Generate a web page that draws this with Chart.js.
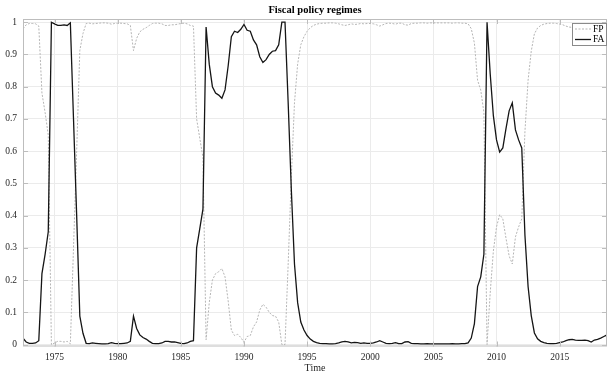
<!DOCTYPE html>
<html><head><meta charset="utf-8">
<script src="https://cdn.jsdelivr.net/npm/chart.js@4/dist/chart.umd.min.js"></script>
<style>html,body{margin:0;padding:0;background:#fff}#wrap{width:608px;height:373px}</style>
</head><body><div id="wrap"><canvas id="c" width="608" height="373"></canvas></div>
<script>
// Quarterly time axis: 1972Q3 .. 2018Q4
const startTime = 1972.5;
const quarterStep = 0.25;

// FA regime probability, quarterly
const FA = [
  0.02, 0.008,
  0.004, 0.004, 0.005, 0.012,
  0.22, 0.28, 0.35, 1.0,
  0.995, 0.99, 0.99, 0.992,
  0.99, 0.998, 0.70, 0.40,
  0.088, 0.035, 0.004, 0.003,
  0.005, 0.004, 0.003, 0.002,
  0.002, 0.003, 0.006, 0.004,
  0.003, 0.003, 0.004, 0.005,
  0.01, 0.088, 0.05, 0.03,
  0.022, 0.017, 0.01, 0.004,
  0.003, 0.003, 0.005, 0.01,
  0.01, 0.008, 0.008, 0.006,
  0.004, 0.003, 0.005, 0.01,
  0.012, 0.30, 0.36, 0.42,
  0.985, 0.87, 0.80, 0.78,
  0.774, 0.764, 0.79, 0.865,
  0.955, 0.972, 0.968, 0.978,
  0.993, 0.975, 0.972, 0.945,
  0.93, 0.893, 0.875, 0.884,
  0.90, 0.91, 0.912, 0.93,
  1.0, 1.0, 0.75, 0.48,
  0.25, 0.13, 0.07, 0.045,
  0.028, 0.017, 0.01, 0.006,
  0.004, 0.003, 0.003, 0.002,
  0.002, 0.003, 0.005, 0.008,
  0.01, 0.008, 0.005, 0.007,
  0.006, 0.004, 0.005, 0.004,
  0.004, 0.005, 0.008, 0.012,
  0.008, 0.004, 0.003, 0.004,
  0.006, 0.003, 0.003, 0.008,
  0.009, 0.004, 0.003, 0.003,
  0.002, 0.002, 0.003, 0.002,
  0.002, 0.002, 0.002, 0.002,
  0.002, 0.002, 0.003, 0.002,
  0.002, 0.003, 0.003, 0.005,
  0.02, 0.065, 0.18, 0.21,
  0.28, 1.0, 0.84, 0.71,
  0.635, 0.597, 0.61, 0.67,
  0.725, 0.75, 0.666, 0.635,
  0.61, 0.34, 0.18, 0.09,
  0.036, 0.018, 0.01, 0.006,
  0.004, 0.003, 0.003, 0.004,
  0.006, 0.008, 0.012, 0.015,
  0.016, 0.014, 0.013, 0.013,
  0.014, 0.012, 0.008, 0.014,
  0.016, 0.02, 0.025, 0.03
];

// FP regime probability, quarterly
const FP = [
  0.98, 0.992,
  0.996, 0.996, 0.995, 0.988,
  0.78, 0.72, 0.65, 0.0,
  0.005, 0.01, 0.01, 0.008,
  0.01, 0.002, 0.30, 0.60,
  0.912, 0.965, 0.996, 0.997,
  0.995, 0.996, 0.997, 0.998,
  0.998, 0.997, 0.994, 0.996,
  0.997, 0.997, 0.996, 0.995,
  0.99, 0.912, 0.95, 0.97,
  0.978, 0.983, 0.99, 0.996,
  0.997, 0.997, 0.995, 0.99,
  0.99, 0.992, 0.992, 0.994,
  0.996, 0.997, 0.995, 0.99,
  0.988, 0.70, 0.64, 0.58,
  0.015, 0.13, 0.20, 0.22,
  0.226, 0.236, 0.21, 0.135,
  0.045, 0.028, 0.032, 0.022,
  0.007, 0.025, 0.028, 0.055,
  0.07, 0.107, 0.125, 0.116,
  0.10, 0.09, 0.088, 0.07,
  0.0, 0.0, 0.25, 0.52,
  0.75, 0.87, 0.93, 0.955,
  0.972, 0.983, 0.99, 0.994,
  0.996, 0.997, 0.997, 0.998,
  0.998, 0.997, 0.995, 0.992,
  0.99, 0.992, 0.995, 0.993,
  0.994, 0.996, 0.995, 0.996,
  0.996, 0.995, 0.992, 0.988,
  0.992, 0.996, 0.997, 0.996,
  0.994, 0.997, 0.997, 0.992,
  0.991, 0.996, 0.997, 0.997,
  0.998, 0.998, 0.997, 0.998,
  0.998, 0.998, 0.998, 0.998,
  0.998, 0.998, 0.997, 0.998,
  0.998, 0.997, 0.997, 0.995,
  0.98, 0.935, 0.82, 0.79,
  0.72, 0.0, 0.16, 0.29,
  0.365, 0.403, 0.39, 0.33,
  0.275, 0.25, 0.334, 0.365,
  0.39, 0.66, 0.82, 0.91,
  0.964, 0.982, 0.99, 0.994,
  0.996, 0.997, 0.997, 0.996,
  0.994, 0.992, 0.988, 0.985,
  0.984, 0.986, 0.987, 0.987,
  0.986, 0.988, 0.992, 0.986,
  0.984, 0.98, 0.975, 0.97
];

const xTicks = [1975, 1980, 1985, 1990, 1995, 2000, 2005, 2010, 2015];
const yTicks = [0, 0.1, 0.2, 0.3, 0.4, 0.5, 0.6, 0.7, 0.8, 0.9, 1];
const titleText = 'Fiscal policy regimes';
const xTitle = 'Time';

const times = FA.map((_, i) => startTime + i * quarterStep);
const serif = 'Liberation Serif, Times New Roman, serif';
const boxColor = '#bdbdbd';
const gridColor = '#ebebeb';

const frame = {
  id: 'frame',
  afterDraw(chart) {
    const {ctx, chartArea: a, scales} = chart;
    ctx.save();
    ctx.strokeStyle = boxColor;
    ctx.lineWidth = 1;
    ctx.strokeRect(a.left + 0.5, a.top + 0.5, a.right - a.left - 1, a.bottom - a.top - 1);
    const tl = 5;
    ctx.beginPath();
    xTicks.forEach(v => {
      const x = Math.round(scales.x.getPixelForValue(v)) + 0.5;
      ctx.moveTo(x, a.bottom); ctx.lineTo(x, a.bottom - tl);
      ctx.moveTo(x, a.top); ctx.lineTo(x, a.top + tl);
    });
    yTicks.forEach(v => {
      const y = Math.round(scales.y.getPixelForValue(v)) + 0.5;
      ctx.moveTo(a.left, y); ctx.lineTo(a.left + tl, y);
      ctx.moveTo(a.right, y); ctx.lineTo(a.right - tl, y);
    });
    ctx.stroke();
    // legend
    const ds = chart.data.datasets;
    const lw = 34, lh = 22;
    const lx = a.right - lw - 1, ly = a.top + 4;
    ctx.fillStyle = '#fff';
    ctx.fillRect(lx, ly, lw, lh);
    ctx.strokeStyle = '#8a8a8a';
    ctx.strokeRect(lx + 0.5, ly + 0.5, lw, lh);
    ds.forEach((d, i) => {
      const yy = ly + 6 + i * 10.5;
      ctx.beginPath();
      ctx.setLineDash(d.borderDash || []);
      ctx.strokeStyle = d.borderColor;
      ctx.lineWidth = d.borderWidth;
      ctx.moveTo(lx + 3, yy); ctx.lineTo(lx + 19, yy);
      ctx.stroke();
      ctx.setLineDash([]);
      ctx.fillStyle = '#000';
      ctx.font = '9.5px ' + serif;
      ctx.textBaseline = 'middle';
      ctx.textAlign = 'left';
      ctx.fillText(d.label, lx + 21, yy);
    });
    ctx.restore();
  }
};

new Chart(document.getElementById('c'), {
  type: 'line',
  data: {
    datasets: [
      { label: 'FP', data: times.map((t, i) => ({x: t, y: FP[i]})), borderColor: '#b5b5b5',
        borderWidth: 1, borderDash: [2, 1.5], pointRadius: 0, tension: 0, order: 1 },
      { label: 'FA', data: times.map((t, i) => ({x: t, y: FA[i]})), borderColor: '#151515',
        borderWidth: 1.3, pointRadius: 0, tension: 0, order: 0 }
    ]
  },
  options: {
    responsive: false,
    animation: false,
    layout: { padding: { left: 0, right: 1, top: 0, bottom: 0 } },
    plugins: {
      legend: { display: false },
      tooltip: { enabled: false },
      title: { display: true, text: titleText, fullSize: false, color: '#000',
        font: { family: serif, size: 10.5, weight: 'bold', lineHeight: 1.2 },
        padding: { top: 4, bottom: 2.4 } }
    },
    scales: {
      x: {
        type: 'linear', min: startTime, max: startTime + (FA.length - 1) * quarterStep,
        afterBuildTicks: s => { s.ticks = xTicks.map(v => ({value: v})); },
        afterFit: s => { s.height = 26.5; },
        ticks: { color: '#262626', font: { family: serif, size: 9.5 }, padding: 5,
          maxRotation: 0, autoSkip: false, callback: v => String(v) },
        grid: { color: gridColor, drawTicks: false },
        border: { display: false },
        title: { display: true, text: xTitle, color: '#262626',
          font: { family: serif, size: 10, lineHeight: 1 }, padding: { top: 0, bottom: 0 } }
      },
      y: {
        type: 'linear', min: -0.006, max: 1.01,
        afterBuildTicks: s => { s.ticks = yTicks.map(v => ({value: v})); },
        afterFit: s => { s.width = 23; },
        ticks: { color: '#262626', font: { family: serif, size: 9.5 }, padding: 6,
          callback: v => String(v) },
        grid: { color: gridColor, drawTicks: false },
        border: { display: false }
      }
    }
  },
  plugins: [frame]
});
</script>
</body></html>
